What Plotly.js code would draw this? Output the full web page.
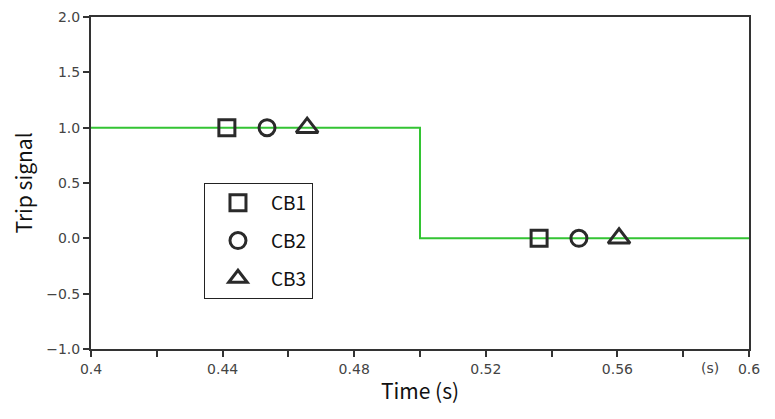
<!DOCTYPE html>
<html>
<head>
<meta charset="utf-8">
<script src="https://cdn.plot.ly/plotly-3.0.1.min.js"></script>
<style>html,body{margin:0;padding:0;background:#fff;}#chart{width:775px;height:419px;}</style>
</head>
<body>
<div id="chart"></div>
<script>
// Step trip signal
const signalTime = [0.4, 0.5, 0.5, 0.6];
const signalValue = [1, 1, 0, 0];

// Breaker markers
const cbNames = ["CB1", "CB2", "CB3"];
const cb1Time = [0.4413, 0.5362];
const cb2Time = [0.4535, 0.5483];
const cb3Time = [0.4657, 0.5605];
const cbValue = [1, 0];

// Axis ticks
const xTickVals = [0.4, 0.42, 0.44, 0.46, 0.48, 0.5, 0.52, 0.54, 0.56, 0.58, 0.6];
const xTickText = ["0.4", "", "0.44", "", "0.48", "", "0.52", "", "0.56", "", "0.6"];
const yTickVals = [-1, -0.5, 0, 0.5, 1, 1.5, 2];
const yTickText = ["\u22121.0", "\u22120.5", "0.0", "0.5", "1.0", "1.5", "2.0"];

const markerColor = "#2a2a2a";
const symbols = ["square-open", "circle-open", "triangle-up-open"];
const sizes = [16, 16, 19];
const cbTimes = [cb1Time, cb2Time, cb3Time];

const traces = [{
  x: signalTime, y: signalValue, mode: "lines", type: "scatter",
  line: {color: "#33c433", width: 2}, showlegend: false, hoverinfo: "skip"
}];
cbNames.forEach((n, i) => {
  traces.push({
    x: cbTimes[i], y: cbValue, mode: "markers", type: "scatter", name: n,
    legendgroup: n,
    marker: {symbol: symbols[i], size: sizes[i], color: markerColor, line: {width: 3, color: markerColor}}
  });
});

const tickFont = {family: "DejaVu Sans", size: 14, color: "#444"};
const titleFont = {family: "Noto Sans CJK KR, Noto Sans, sans-serif", size: 21, color: "#111"};

const layout = {
  width: 775, height: 419,
  margin: {l: 91, r: 26, t: 17, b: 70},
  paper_bgcolor: "#fff", plot_bgcolor: "#fff",
  xaxis: {
    range: [0.4, 0.6], tickvals: xTickVals, ticktext: xTickText,
    showgrid: false, zeroline: false, showline: true, mirror: true,
    linecolor: "#333", linewidth: 2, ticks: "outside", ticklen: 6, tickwidth: 2, tickcolor: "#333",
    tickfont: tickFont,
    title: {text: "Time (s)", font: titleFont, standoff: 9}
  },
  yaxis: {
    range: [-1, 2], tickvals: yTickVals, ticktext: yTickText,
    showgrid: false, zeroline: false, showline: true, mirror: true,
    linecolor: "#333", linewidth: 2, ticks: "outside", ticklen: 6, tickwidth: 2, tickcolor: "#333",
    tickfont: tickFont,
    title: {text: "Trip signal", font: titleFont, standoff: 8}
  },
  showlegend: true,
  legend: {
    x: 0.1717, y: 0.5, xanchor: "left", yanchor: "top",
    bgcolor: "#fff", bordercolor: "#222", borderwidth: 1,
    font: {family: "Noto Sans CJK KR, Noto Sans, sans-serif", size: 19, color: "#111"},
    tracegroupgap: 10, itemwidth: 56
  },
  annotations: [{
    xref: "paper", yref: "paper", x: 0.94, y: 0, yshift: -19,
    text: "(s)", showarrow: false, font: tickFont, xanchor: "center", yanchor: "middle"
  }]
};

Plotly.newPlot("chart", traces, layout, {displayModeBar: false, staticPlot: true});
</script>
</body>
</html>
